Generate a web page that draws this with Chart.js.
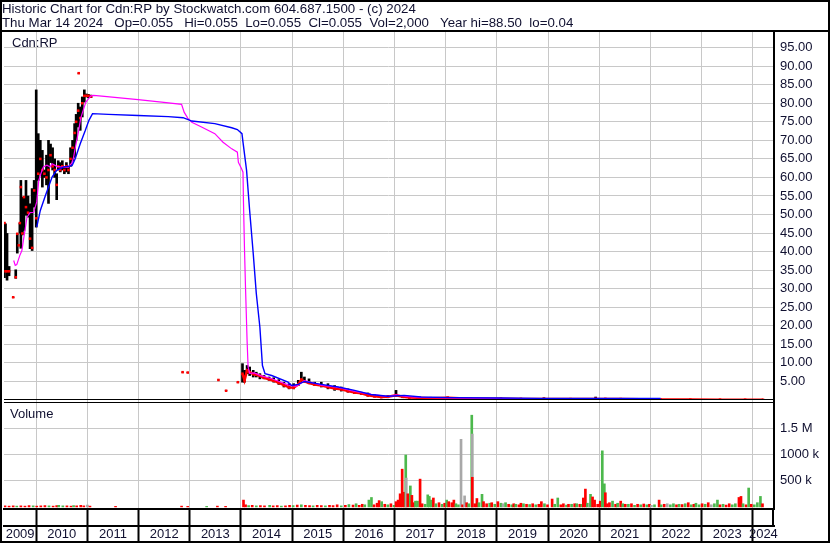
<!DOCTYPE html>
<html>
<head>
<meta charset="utf-8">
<title>Historic Chart for Cdn:RP</title>
<script src="https://cdn.jsdelivr.net/npm/chart.js@4.4.1/dist/chart.umd.min.js"></script>
<style>
  html, body { margin: 0; padding: 0; background: #fff; }
  #wrap { width: 830px; height: 543px; }
</style>
</head>
<body>
<div id="wrap"><canvas id="chart" width="830" height="543"></canvas></div>
<script>
const headerLines = [
  'Historic Chart for Cdn:RP by Stockwatch.com 604.687.1500 - (c) 2024',
  'Thu Mar 14 2024   Op=0.055   Hi=0.055  Lo=0.055  Cl=0.055  Vol=2,000   Year hi=88.50  lo=0.04'
];

// dates are decimal years
const yearLabels = ['2009', '2010', '2011', '2012', '2013', '2014', '2015', '2016',
  '2017', '2018', '2019', '2020', '2021', '2022', '2023', '2024'];
const yearTicks = [2010, 2011, 2012, 2013, 2014, 2015, 2016, 2017, 2018, 2019, 2020, 2021, 2022, 2023, 2024];
const priceTicks = [5, 10, 15, 20, 25, 30, 35, 40, 45, 50, 55, 60, 65, 70, 75, 80, 85, 90, 95];
const volTicks = [500000, 1000000, 1500000];
const volTickLabels = ['500 k', '1000 k', '1.5 M'];

// price bars (high / low / close)
const barYears = [
  2009.38, 2009.40, 2009.43, 2009.47, 2009.55, 2009.60, 2009.63, 2009.66, 2009.68, 2009.70,
  2009.73, 2009.76, 2009.80, 2009.84, 2009.88, 2009.92, 2009.96, 2010.00, 2010.04, 2010.08,
  2010.12, 2010.16, 2010.20, 2010.24, 2010.28, 2010.32, 2010.36, 2010.40, 2010.43, 2010.47,
  2010.51, 2010.55, 2010.59, 2010.63, 2010.67, 2010.71, 2010.75, 2010.78, 2010.82, 2010.83,
  2010.86, 2010.90, 2010.94, 2010.98, 2011.02, 2011.07,
  2012.86, 2012.96, 2013.56, 2013.71, 2013.94,
  2014.03, 2014.07, 2014.12, 2014.17, 2014.24, 2014.30, 2014.37, 2014.45, 2014.55, 2014.64,
  2014.74, 2014.84, 2014.94, 2015.03, 2015.12, 2015.18, 2015.24, 2015.33, 2015.44, 2015.57,
  2015.70, 2015.83, 2015.96, 2016.09, 2016.22, 2016.35, 2016.48, 2016.61, 2016.74, 2016.87,
  2017.03, 2017.16, 2017.29, 2017.45, 2017.71, 2018.04, 2018.49, 2019.08, 2019.47, 2019.92,
  2020.44, 2020.93, 2021.12, 2021.42, 2021.81, 2022.20, 2022.78, 2023.36, 2023.85, 2024.20
];
const barLows = [
  33.0, 34.7, 32.3, 33.5, 27.7, 32.8, 39.6, 41.7, 45.0, 40.9,
  44.5, 45.7, 49.8, 49.3, 40.8, 40.3, 52.0, 46.6, 59.2, 61.0,
  57.4, 60.0, 58.0, 53.0, 64.0, 62.0, 60.0, 54.0, 62.0, 61.5,
  62.0, 61.0, 61.5, 61.0, 63.0, 64.5, 65.4, 70.0, 73.6, 88.1,
  72.7, 76.3, 80.3, 81.7, 81.5, 81.5,
  7.5, 7.4, 5.4, 2.5, 4.8,
  4.8, 4.8, 7.1, 6.6, 6.2, 6.2, 5.7, 5.7, 5.3, 4.8,
  4.2, 3.5, 3.0, 3.0, 3.9, 4.8, 4.8, 4.4, 3.9, 3.5,
  3.0, 2.6, 2.4, 2.1, 1.7, 1.5, 1.0, 0.8, 0.6, 0.6,
  1.0, 0.6, 0.5, 0.4, 0.4, 0.4, 0.3, 0.3, 0.25, 0.2,
  0.2, 0.2, 0.25, 0.2, 0.15, 0.12, 0.1, 0.08, 0.06, 0.055
];
const barHighs = [
  47.7, 47.5, 44.9, 36.0, 27.7, 35.1, 44.8, 41.7, 47.7, 59.2,
  54.7, 54.7, 59.2, 55.0, 52.9, 57.0, 59.2, 83.6, 71.8, 70.0,
  67.3, 62.0, 66.0, 70.0, 69.0, 68.0, 65.0, 61.0, 64.5, 64.0,
  64.5, 63.0, 64.0, 63.0, 68.0, 70.0, 74.5, 77.0, 80.0, 88.1,
  79.0, 81.7, 83.6, 82.5, 82.4, 82.2,
  7.5, 7.4, 5.4, 2.5, 4.8,
  9.8, 8.0, 9.3, 8.9, 8.0, 7.5, 7.1, 6.6, 6.2, 6.0,
  5.5, 4.8, 4.4, 4.4, 5.3, 7.5, 6.2, 5.7, 4.8, 4.8,
  4.4, 3.9, 3.5, 3.0, 2.6, 2.1, 1.9, 1.5, 1.2, 1.2,
  2.6, 1.2, 1.0, 0.8, 0.6, 0.8, 0.45, 0.45, 0.4, 0.6,
  0.3, 0.8, 0.4, 0.3, 0.25, 0.2, 0.15, 0.12, 0.1, 0.055
];
const barCloses = [
  47.7, 34.7, 34.7, 34.7, 27.7, 33.1, 44.8, 41.7, 47.7, 57.4,
  44.9, 54.7, 52.0, 50.5, 43.5, 41.0, 56.5, 49.0, 61.0, 65.0,
  62.0, 61.0, 60.0, 62.0, 66.0, 63.0, 62.0, 58.0, 63.0, 62.0,
  63.0, 62.0, 63.0, 62.0, 65.0, 68.0, 72.0, 75.0, 78.0, 88.1,
  76.0, 80.0, 82.0, 82.0, 82.0, 81.8,
  7.5, 7.4, 5.4, 2.5, 4.8,
  7.1, 5.3, 8.0, 7.5, 7.0, 6.8, 6.5, 6.0, 5.6, 5.2,
  4.6, 4.0, 3.4, 3.3, 4.2, 5.5, 5.0, 4.6, 4.2, 3.9,
  3.5, 3.1, 2.9, 2.4, 2.0, 1.8, 1.3, 1.0, 0.8, 0.9,
  1.3, 0.9, 0.7, 0.6, 0.5, 0.6, 0.35, 0.35, 0.3, 0.3,
  0.25, 0.3, 0.3, 0.25, 0.2, 0.15, 0.12, 0.1, 0.08, 0.055
];

// moving averages
const maShortYears = [
  2009.56, 2009.59, 2009.62, 2009.68, 2009.72, 2009.76, 2009.82, 2009.88, 2009.95, 2010.01,
  2010.05, 2010.09, 2010.14, 2010.21, 2010.27, 2010.31, 2010.40, 2010.50, 2010.63, 2010.70,
  2010.73, 2010.77, 2010.83, 2010.87, 2010.93, 2010.97, 2011.02, 2011.07, 2011.12, 2011.28,
  2011.99, 2012.45, 2012.84, 2012.89, 2012.96, 2013.04, 2013.23, 2013.49, 2013.65, 2013.82,
  2013.93, 2013.95, 2014.01, 2014.04, 2014.05, 2014.07, 2014.09, 2014.12, 2014.14, 2014.17,
  2014.26, 2014.40, 2014.59, 2014.79, 2014.93, 2015.08, 2015.18, 2015.24, 2015.31, 2015.57,
  2015.90, 2016.21, 2016.55, 2016.88, 2017.03, 2017.22, 2017.52, 2018.10, 2019.08, 2020.05,
  2021.03, 2021.61, 2022.20
];
const maShortValues = [
  37.6, 36.3, 36.5, 39.0, 40.3, 44.0, 49.3, 50.5, 50.6, 53.4,
  59.2, 61.0, 62.8, 63.3, 62.8, 63.7, 63.0, 62.8, 62.8, 64.0,
  65.5, 68.5, 72.7, 76.0, 78.6, 80.3, 81.2, 82.0, 82.1, 81.9,
  81.0, 80.3, 79.7, 77.6, 76.0, 74.9, 73.6, 71.8, 69.5, 67.7,
  66.8, 64.1, 62.4, 61.4, 53.0, 40.3, 30.0, 16.0, 8.9, 7.2,
  7.3, 6.5, 5.8, 4.8, 4.0, 3.7, 4.6, 5.2, 5.0, 4.0,
  3.4, 2.4, 1.5, 0.9, 1.4, 1.0, 0.7, 0.55, 0.4, 0.35,
  0.35, 0.3, 0.25
];
const maLongYears = [
  2010.01, 2010.08, 2010.17, 2010.24, 2010.31, 2010.40, 2010.53, 2010.70, 2010.76, 2010.86,
  2010.96, 2011.03, 2011.10, 2011.41, 2011.99, 2012.58, 2012.87, 2013.04, 2013.49, 2013.82,
  2013.93, 2014.02, 2014.04, 2014.11, 2014.17, 2014.24, 2014.30, 2014.37, 2014.42, 2014.47,
  2014.60, 2014.92, 2014.99, 2015.12, 2015.24, 2015.57, 2015.90, 2016.22, 2016.54, 2016.87,
  2017.19, 2017.52, 2018.10, 2019.08, 2019.85, 2021.03, 2021.61, 2022.20
];
const maLongValues = [
  46.6, 51.1, 54.7, 57.4, 60.1, 61.9, 62.8, 63.2, 65.0, 69.1,
  72.7, 75.4, 77.2, 77.0, 76.7, 76.4, 76.1, 75.2, 74.5, 73.4,
  72.9, 71.8, 69.5, 61.9, 51.1, 39.5, 28.7, 19.6, 9.3, 7.1,
  6.6, 4.8, 3.9, 4.2, 5.0, 4.2, 3.5, 2.6, 1.5, 1.0,
  1.24, 0.8, 0.65, 0.55, 0.45, 0.45, 0.45, 0.45
];

// volume (shares); move: 1 up, -1 down, 0 unchanged
const volYears = [
  2009.39, 2009.47, 2009.55, 2009.62, 2009.70, 2009.78, 2009.86, 2009.94, 2010.01, 2010.09,
  2010.17, 2010.25, 2010.33, 2010.40, 2010.44, 2010.52, 2010.60, 2010.68, 2010.73, 2010.79,
  2010.87, 2010.93, 2011.00, 2011.05, 2011.55, 2012.84, 2012.96, 2013.33, 2013.54, 2013.70,
  2014.05, 2014.09, 2014.15, 2014.22, 2014.30, 2014.38, 2014.46, 2014.56, 2014.63, 2014.71,
  2014.79, 2014.87, 2014.95, 2015.02, 2015.10, 2015.18, 2015.26, 2015.34, 2015.41, 2015.49,
  2015.57, 2015.65, 2015.73, 2015.80, 2015.88, 2015.96, 2016.04, 2016.11, 2016.19, 2016.25,
  2016.31, 2016.37, 2016.42, 2016.50, 2016.55, 2016.60, 2016.66, 2016.70, 2016.75, 2016.81,
  2016.87, 2016.93, 2016.99, 2017.03, 2017.07, 2017.11, 2017.15, 2017.19, 2017.22, 2017.23,
  2017.26, 2017.31, 2017.34, 2017.38, 2017.41, 2017.45, 2017.50, 2017.54, 2017.60, 2017.65,
  2017.68, 2017.72, 2017.76, 2017.81, 2017.87, 2017.93, 2017.98, 2018.02, 2018.06, 2018.12,
  2018.16, 2018.20, 2018.25, 2018.30, 2018.33, 2018.37, 2018.41, 2018.45, 2018.51, 2018.52,
  2018.52, 2018.57, 2018.61, 2018.65, 2018.71, 2018.74, 2018.80, 2018.86, 2018.90, 2018.96,
  2019.02, 2019.08, 2019.12, 2019.17, 2019.23, 2019.29, 2019.33, 2019.37, 2019.43, 2019.47,
  2019.52, 2019.58, 2019.64, 2019.70, 2019.76, 2019.82, 2019.87, 2019.93, 2019.99, 2020.08,
  2020.13, 2020.19, 2020.25, 2020.30, 2020.36, 2020.40, 2020.46, 2020.52, 2020.56, 2020.62,
  2020.66, 2020.69, 2020.73, 2020.77, 2020.81, 2020.83, 2020.87, 2020.91, 2020.97, 2021.02,
  2021.06, 2021.10, 2021.12, 2021.16, 2021.20, 2021.26, 2021.32, 2021.36, 2021.42, 2021.46,
  2021.51, 2021.57, 2021.63, 2021.69, 2021.75, 2021.81, 2021.87, 2021.93, 2021.98, 2022.02,
  2022.08, 2022.17, 2022.21, 2022.27, 2022.33, 2022.39, 2022.45, 2022.51, 2022.56, 2022.62,
  2022.68, 2022.74, 2022.80, 2022.85, 2022.89, 2022.95, 2023.01, 2023.07, 2023.13, 2023.19,
  2023.25, 2023.31, 2023.36, 2023.42, 2023.48, 2023.54, 2023.60, 2023.66, 2023.73, 2023.77,
  2023.81, 2023.87, 2023.92, 2023.97, 2024.03, 2024.09, 2024.15, 2024.19
];
const volValues = [
  20000, 15000, 20000, 15000, 20000, 15000, 25000, 20000, 15000, 20000,
  25000, 20000, 15000, 25000, 30000, 20000, 20000, 15000, 25000, 20000,
  30000, 20000, 35000, 15000, 10000, 15000, 10000, 10000, 15000, 10000,
  130000, 40000, 25000, 30000, 20000, 25000, 20000, 30000, 20000, 25000,
  15000, 20000, 30000, 25000, 35000, 40000, 30000, 25000, 20000, 30000,
  25000, 20000, 30000, 25000, 40000, 20000, 30000, 45000, 35000, 60000,
  30000, 50000, 40000, 130000, 180000, 40000, 70000, 120000, 100000, 50000,
  40000, 60000, 30000, 100000, 130000, 250000, 720000, 280000, 990000, 550000,
  250000, 400000, 220000, 80000, 110000, 110000, 530000, 60000, 50000, 230000,
  200000, 130000, 170000, 60000, 80000, 50000, 70000, 130000, 100000, 80000,
  130000, 60000, 40000, 1290000, 40000, 210000, 80000, 60000, 1750000, 1390000,
  565000, 60000, 160000, 80000, 240000, 100000, 60000, 70000, 80000, 50000,
  100000, 70000, 60000, 80000, 50000, 40000, 60000, 50000, 40000, 70000,
  60000, 50000, 45000, 60000, 40000, 50000, 100000, 60000, 40000, 150000,
  50000, 170000, 40000, 60000, 35000, 50000, 50000, 60000, 60000, 50000,
  50000, 170000, 340000, 70000, 60000, 240000, 190000, 130000, 50000, 110000,
  1070000, 440000, 270000, 60000, 80000, 110000, 50000, 70000, 110000, 60000,
  50000, 50000, 60000, 30000, 50000, 40000, 55000, 40000, 50000, 30000,
  40000, 130000, 40000, 50000, 60000, 40000, 60000, 40000, 50000, 45000,
  60000, 80000, 40000, 50000, 70000, 40000, 60000, 50000, 80000, 40000,
  60000, 130000, 40000, 50000, 35000, 60000, 40000, 60000, 180000, 200000,
  60000, 40000, 360000, 50000, 40000, 80000, 200000, 60000
];
const volMoves = [
  -1, -1, -1, 1, -1, -1, -1, 1, -1, -1,
  -1, 1, -1, -1, 1, 1, -1, -1, 1, -1,
  -1, -1, 0, -1, -1, -1, -1, 1, -1, -1,
  -1, -1, 1, -1, 1, -1, -1, 1, -1, -1,
  1, -1, -1, 1, -1, 1, -1, -1, 1, -1,
  -1, 1, -1, -1, -1, 1, -1, 1, -1, 1,
  -1, -1, 1, 1, 1, -1, -1, -1, 1, -1,
  1, -1, 1, -1, -1, -1, -1, -1, 1, 0,
  -1, 1, -1, -1, 1, 1, -1, -1, 1, 1,
  1, 1, -1, 1, -1, 1, -1, 1, -1, -1,
  -1, 1, 1, 0, -1, 0, -1, 1, 1, 0,
  -1, -1, -1, 1, 1, -1, -1, 1, -1, 1,
  -1, 1, 0, 1, -1, 1, -1, 1, -1, -1,
  1, -1, 1, -1, 1, -1, -1, 1, -1, -1,
  1, 1, -1, -1, 1, -1, 1, -1, 1, -1,
  1, -1, -1, 1, 0, 1, -1, -1, -1, -1,
  1, 1, -1, -1, -1, 1, -1, 1, -1, 1,
  -1, 1, -1, 1, -1, 1, -1, 1, -1, 0,
  1, -1, 1, -1, 0, 1, 1, -1, 1, -1,
  1, -1, 1, -1, 1, 1, -1, 1, -1, 0,
  1, 1, -1, 1, -1, -1, 1, 1, -1, -1,
  1, -1, 1, -1, 1, 1, 1, -1
];

const xMin = 2009.3705;
const xMax = 2024.415;
const textColor = '#101030';
const gridColor = '#c8c8c8';
const moveColors = { '1': '#4cb84c', '-1': '#ff0000', '0': '#a8a8a8' };

Chart.defaults.font.family = '"Liberation Sans", Arial, sans-serif';
Chart.defaults.font.size = 13;
Chart.defaults.color = textColor;

const labelYears = yearLabels.map(y => {
  const start = Math.max(+y, xMin);
  const end = Math.min(+y + 1, xMax);
  return (start + end) / 2;
});

const priceBars = barYears.map((x, i) => ({ x: x, y: [barLows[i], barHighs[i]] }));
const closePoints = barYears.map((x, i) => ({ x: x, y: barCloses[i] }));
const closeLine = closePoints.filter(p => p.x >= 2014);
const maShort = maShortYears.map((x, i) => ({ x: x, y: maShortValues[i] }));
const maLong = maLongYears.map((x, i) => ({ x: x, y: maLongValues[i] }));
const volBars = volYears.map((x, i) => ({ x: x, y: volValues[i] }));

// frame lines and panel captions
const framePlugin = {
  id: 'frame',
  afterDraw(chart) {
    const { ctx, chartArea: a, scales } = chart;
    const split = scales.yp.bottom;
    ctx.save();
    ctx.strokeStyle = '#000';
    ctx.lineWidth = 2;
    ctx.strokeRect(1, 1, chart.width - 2, chart.height - 2);
    ctx.beginPath();
    ctx.moveTo(0, a.top - 1);
    ctx.lineTo(chart.width, a.top - 1);
    // right edge of the date rows
    ctx.moveTo(a.right - 1, a.bottom);
    ctx.lineTo(a.right - 1, scales.x.bottom);
    ctx.stroke();
    ctx.lineWidth = 1;
    ctx.beginPath();
    ctx.moveTo(a.left, split - 0.5);
    ctx.lineTo(a.right, split - 0.5);
    ctx.moveTo(a.left, split + 2.5);
    ctx.lineTo(a.right, split + 2.5);
    ctx.stroke();
    ctx.fillStyle = textColor;
    ctx.font = '13px "Liberation Sans", Arial, sans-serif';
    ctx.textBaseline = 'middle';
    ctx.fillText('Cdn:RP', a.left + 8, a.top + 11);
    ctx.fillText('Volume', a.left + 6, split + 14);
    ctx.restore();
  }
};

new Chart(document.getElementById('chart'), {
  data: {
    datasets: [
      {
        type: 'bar', data: volBars, xAxisID: 'x', yAxisID: 'yv', order: 6,
        grouped: false, barThickness: 2, borderWidth: 0,
        backgroundColor: volMoves.map(m => moveColors[m])
      },
      {
        type: 'bar', data: priceBars, xAxisID: 'x', yAxisID: 'yp', order: 5,
        grouped: false, barThickness: 2, borderWidth: 0, backgroundColor: '#000'
      },
      {
        type: 'line', data: closePoints, xAxisID: 'x', yAxisID: 'yp', order: 4,
        showLine: false, pointStyle: 'rect', pointRadius: 1.8, pointBorderWidth: 0,
        pointBackgroundColor: '#ff0000'
      },
      {
        type: 'line', data: closeLine, xAxisID: 'x', yAxisID: 'yp', order: 3,
        borderColor: '#ff0000', borderWidth: 2.5, pointRadius: 0, tension: 0
      },
      {
        type: 'line', data: maShort, xAxisID: 'x', yAxisID: 'yp', order: 2,
        borderColor: '#ff00ff', borderWidth: 1.2, pointRadius: 0, tension: 0
      },
      {
        type: 'line', data: maLong, xAxisID: 'x', yAxisID: 'yp', order: 1,
        borderColor: '#0000ff', borderWidth: 1.4, pointRadius: 0, tension: 0
      }
    ]
  },
  options: {
    responsive: false,
    animation: false,
    events: [],
    layout: { padding: { left: 2, right: 2, top: 0, bottom: 1 } },
    plugins: {
      legend: { display: false },
      tooltip: { enabled: false },
      title: {
        display: true,
        text: headerLines,
        align: 'start',
        color: textColor,
        font: { size: 13.3, weight: 'normal', lineHeight: 1.08 },
        padding: { top: 2, bottom: 1.3 }
      }
    },
    scales: {
      x: {
        type: 'linear', position: 'bottom', weight: 1, offset: false,
        min: xMin, max: xMax,
        afterBuildTicks: s => { s.ticks = yearTicks.map(v => ({ value: v })); },
        afterFit: s => { s.height = 17; },
        ticks: { display: false },
        grid: { offset: false, color: gridColor, tickColor: '#000', tickLength: 33, tickWidth: 2 },
        border: { display: true, color: '#000', width: 2 }
      },
      x2: {
        type: 'linear', position: 'bottom', weight: 2, offset: false,
        min: xMin, max: xMax,
        afterBuildTicks: s => { s.ticks = labelYears.map(v => ({ value: v })); },
        afterFit: s => { s.height = 16; },
        ticks: {
          autoSkip: false, maxRotation: 0, padding: 1,
          callback: (v, i) => yearLabels[i]
        },
        grid: { display: false, drawTicks: false },
        border: { display: true, color: '#000', width: 2 }
      },
      yp: {
        type: 'linear', position: 'right', stack: 'panels', stackWeight: 368, weight: 1,
        min: 0, max: 99.2,
        afterBuildTicks: s => { s.ticks = priceTicks.map(v => ({ value: v })); },
        afterFit: s => { s.width = 54; },
        ticks: { autoSkip: false, padding: 6, callback: v => v.toFixed(2) },
        grid: { color: gridColor, drawTicks: false },
        border: { display: true, color: '#000', width: 2 }
      },
      yv: {
        type: 'linear', position: 'right', stack: 'panels', stackWeight: 109, weight: 2,
        min: -40000, max: 2040000,
        afterBuildTicks: s => { s.ticks = volTicks.map(v => ({ value: v })); },
        afterFit: s => { s.width = 54; },
        ticks: { autoSkip: false, padding: 6, callback: (v, i) => volTickLabels[i] },
        grid: { color: gridColor, drawTicks: false },
        border: { display: true, color: '#000', width: 2 }
      }
    }
  },
  plugins: [framePlugin]
});
</script>
</body>
</html>
